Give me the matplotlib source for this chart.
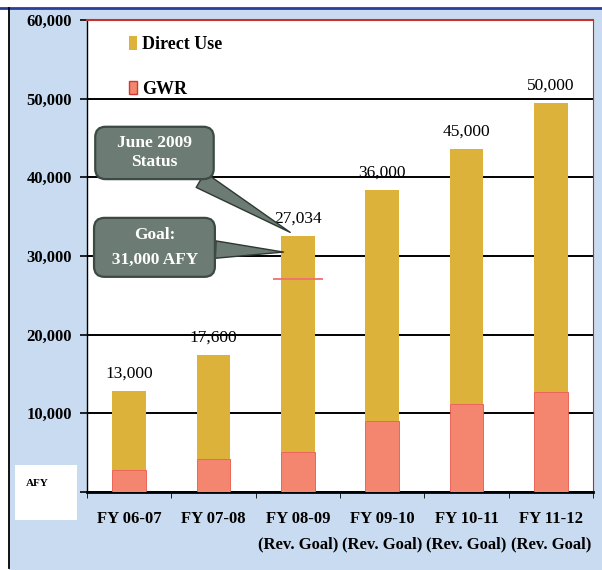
import numpy as np
import matplotlib.pyplot as plt
from matplotlib.patches import Rectangle
from matplotlib.lines import Line2D

# values (AFY)
years = ['FY 06-07', 'FY 07-08', 'FY 08-09\n(Rev. Goal)', 'FY 09-10\n(Rev. Goal)',
         'FY 10-11\n(Rev. Goal)', 'FY 11-12\n(Rev. Goal)']
gwr = [2800, 4200, 5100, 9000, 11200, 12700]
total = [12800, 17400, 32500, 38400, 43600, 49400]
direct = [t - g for t, g in zip(total, gwr)]
bar_labels = ['13,000', '17,600', '27,034', '36,000', '45,000', '50,000']
status_afy = 27034  # red mark on the FY 08-09 bar

c_direct = '#dcb23a'
c_gwr = '#f4866f'
bg = '#c9dbf0'
serif = ['Liberation Serif', 'DejaVu Serif']

fig = plt.figure(figsize=(6.02, 5.70), dpi=100, facecolor=bg)
ax = fig.add_axes([87/602, 78/570, 506/602, 472/570])
ax.set_facecolor('white')

x = np.arange(len(years))
w = 0.4
ax.bar(x, gwr, w, color=c_gwr, edgecolor='#e8564a', linewidth=0.6, label='GWR', zorder=3)
ax.bar(x, direct, w, bottom=gwr, color=c_direct, linewidth=0, label='Direct Use', zorder=3)

# totals above bars
for xi, t, lab in zip(x, total, bar_labels):
    ax.annotate(lab, (xi, t), xytext=(0, 7), textcoords='offset points',
                ha='center', va='bottom', fontsize=12.5, family=serif, zorder=5)

# June 2009 status mark
ax.hlines(status_afy, 2 - 0.3, 2 + 0.3, color='#f07070', lw=1.3, zorder=4)

# callouts
box = dict(boxstyle='round,pad=0.5,rounding_size=0.6', fc='#6c7b73', ec='#3c4a43', lw=1.6)
wedge = dict(arrowstyle='wedge,tail_width=1.0,shrink_factor=0.5', fc='#6c7b73', ec='#2e3832',
             lw=1.0, shrinkA=0, shrinkB=0)
ax.annotate('   June 2009   \nStatus', xy=(1.91, 33000), xytext=(0.3, 43100),
            ha='center', va='center', color='white', fontsize=12.5, fontweight='bold',
            family=serif, bbox=box, arrowprops=wedge, zorder=6, linespacing=1.25)
ax.annotate('Goal:\n  31,000 AFY  ', xy=(1.83, 30500), xytext=(0.3, 31100),
            ha='center', va='center', color='white', fontsize=12.5, fontweight='bold',
            family=serif, bbox=box, arrowprops=wedge, zorder=6, linespacing=1.8)

ax.set_xlim(-0.48, len(years) - 0.53)
ax.set_ylim(0, 60000)
ax.set_yticks(np.arange(0, 60001, 10000))
ax.set_yticklabels([f'{v:,}' if v else '' for v in range(0, 60001, 10000)],
                   fontsize=12, fontweight='bold', family=serif)
ax.set_xticks(x)
ax.set_xticklabels(years, fontsize=12, fontweight='bold', family=serif, linespacing=1.75)
ax.set_xticks(np.arange(len(years) + 1) - 0.5, minor=True)
ax.tick_params(axis='x', which='major', length=0, pad=14)
ax.tick_params(axis='x', which='minor', length=4, direction='out')
ax.tick_params(axis='y', length=5, width=1.2, pad=6)

ax.yaxis.grid(True, color='black', lw=1.4)
ax.set_axisbelow(True)
ax.spines['top'].set_color('#c8302c')
ax.spines['top'].set_linewidth(1.5)
ax.spines['right'].set_color('#b03030')
ax.spines['left'].set_linestyle((0, (6, 1)))
ax.spines['left'].set_linewidth(1.0)
ax.spines['bottom'].set_linewidth(2.0)

ax.legend(handles=[Rectangle((0, 0), 1, 1, fc=c_direct), Rectangle((0, 0), 1, 1, fc=c_gwr, ec='#d03a30')],
          labels=['Direct Use', 'GWR'], loc='upper left', bbox_to_anchor=(0.05, 1.0),
          frameon=False, handlelength=0.45, handleheight=0.8, handletextpad=0.3,
          labelspacing=1.5, prop={'family': serif, 'size': 13, 'weight': 'bold'})

# page frame from the scan
fig.patches.append(Rectangle((0, 0), 9/602, 1, transform=fig.transFigure, fc='white', ec='none'))
fig.patches.append(Rectangle((0, 562/570), 1, 8/570, transform=fig.transFigure, fc='white', ec='none'))
fig.add_artist(Line2D([0, 1], [562/570, 562/570], transform=fig.transFigure, color='#2a3f9a', lw=2))
fig.add_artist(Line2D([9/602, 9/602], [2/570, 562/570], transform=fig.transFigure, color='black', lw=1.3))
fig.patches.append(Rectangle((15/602, 50/570), 62/602, 55/570, transform=fig.transFigure,
                             fc='white', ec='none'))
fig.text(37/602, 86/570, 'AFY', ha='center', va='center', fontsize=8, fontweight='bold', family=serif)

fig.savefig('out.png', dpi=100, facecolor=bg)
